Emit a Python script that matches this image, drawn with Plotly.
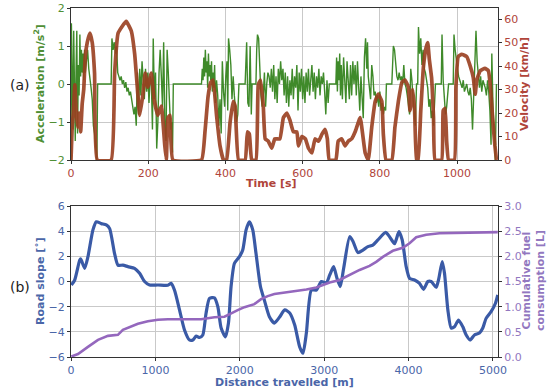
import plotly.graph_objects as go
from plotly.subplots import make_subplots

# ---------------- data: panel (a) ----------------
time_v = [0, 3, 6, 10, 13, 17, 21, 25, 29, 33, 37, 42, 49, 55, 61, 68, 104, 113, 122, 143, 156, 165, 174, 178,
          187, 192, 199, 208, 215, 225, 234, 243, 247, 251, 256, 264, 338, 347, 355, 362, 368, 377, 386, 395,
          403, 412, 420, 425, 434, 451, 457, 462, 468, 479, 485, 491, 498, 503, 511, 520, 528, 541, 550, 559,
          567, 576, 585, 589, 598, 607, 615, 624, 632, 641, 650, 658, 664, 669, 686, 692, 701, 710, 718, 727,
          736, 749, 762, 770, 779, 788, 796, 805, 809, 816, 831, 839, 848, 857, 865, 874, 878, 885, 890, 895,
          899, 906, 913, 920, 924, 928, 934, 939, 943, 960, 964, 969, 973, 978, 993, 997, 1003, 1012, 1025,
          1034, 1042, 1047, 1051, 1060, 1072, 1081, 1087, 1092, 1098, 1102]
velocity = [0, 14, 20, 32, 22, 14, 20, 12, 24, 30, 44, 50, 54, 50, 37, 0, 0, 37, 54, 59, 55, 45, 26, 19,
            29, 37, 31, 37, 26, 19, 23, 6, 0, 18, 19, 0, 0, 12, 27, 33, 34, 19, 6, 0,
            0, 16, 25, 23, 0, 0, 12, 11, 0, 0, 32, 34, 23, 9, 8, 5, 9, 9, 18, 20,
            17, 12, 12, 6, 10, 9, 5, 3, 9, 8, 11, 13, 9, 0, 0, 8, 9, 6, 8, 9,
            12, 18, 3, 0, 14, 25, 28, 25, 11, 0, 0, 14, 25, 33, 34, 31, 21, 30, 21, 0,
            0, 21, 40, 48, 50, 43, 35, 18, 0, 0, 21, 22, 8, 0, 0, 31, 44, 45, 44,
            40, 35, 28, 34, 38, 39, 38, 30, 18, 6, 0]

time_a = [0, 1, 3, 5, 7, 9, 11, 13, 15, 17, 19, 21, 23, 25, 27, 29, 31, 33, 35, 37, 40, 43, 46, 49, 52, 55,
          58, 61, 64, 67, 69, 104,
          106, 109, 112, 115, 118, 121, 124, 127, 130, 133, 136, 139, 142, 145, 148, 151, 154, 157, 160, 163,
          166, 169, 172, 175, 178, 181, 184, 187, 190, 193, 196, 199, 202, 205, 208, 211, 213, 216, 219, 222,
          225, 228, 231, 234, 237, 240, 243, 246, 249, 252, 255, 258, 261, 263, 265, 338,
          340, 342, 344, 346, 348, 350, 352, 354, 356, 358, 360, 362, 364, 366, 368, 370, 372, 374, 377, 380,
          383, 386, 389, 392, 395, 398, 401, 404, 406, 408, 411, 414, 417, 420, 423, 426, 429, 432, 435, 451,
          452, 455, 458, 461, 464, 467, 469, 479, 481, 483, 486, 489, 492, 495, 498, 501, 504, 507, 510, 513,
          516, 519, 522, 525, 528, 531, 534, 537, 540, 543, 546, 549, 552, 555, 558, 561, 564, 567, 570, 573,
          576, 579, 582, 585, 588, 591, 594, 597, 600, 603, 606, 609, 612, 615, 618, 621, 624, 627, 630, 633,
          636, 639, 642, 645, 648, 651, 654, 657, 660, 663, 666, 669, 686,
          688, 690, 692, 694, 696, 698, 700, 703, 706, 709, 712, 715, 718, 721, 724, 727, 730, 733, 736, 739,
          742, 745, 748, 751, 754, 757, 760, 763, 766, 768, 770, 773, 776, 779, 782, 785, 788, 791, 794, 797,
          800, 803, 806, 809, 812, 815, 817, 831,
          833, 835, 838, 841, 844, 847, 850, 853, 856, 859, 862, 865, 868, 871, 874, 877, 880, 883, 886, 889,
          892, 895, 898, 900, 903, 906, 909, 912, 915, 918, 921, 924, 927, 930, 933, 936, 939, 942, 944, 959,
          961, 964, 967, 970, 973, 976, 978, 990, 992, 995, 998, 1001, 1004, 1007, 1010, 1013, 1016, 1019,
          1022, 1025, 1028, 1031, 1034, 1037, 1040, 1043, 1046, 1049, 1052, 1055, 1058, 1061, 1064, 1067,
          1070, 1073, 1076, 1079, 1082, 1085, 1088, 1090, 1093, 1096, 1099, 1102]
acceleration = [-2.0, 1.6, 0.2, -1.2, 1.4, -0.8, -1.5, 0.3, 1.4, -1.3, 0.5, -0.3, 1.3, 0.2, 0.9, 0.3, 0.8, 0.1,
                0.9, 0.3, 0.6, 0.9, 0.4, 0.2, -0.1, -0.4, -1.1, -1.3, -1.6, -2.0, 0, 0,
                1.2, 0.9, 1.1, 0.8, 1.0, 0.3, 0.2, 0.1, 0.2, 0.0, 0.1, -0.1, 0.05, -0.2, -0.1, -0.3, -0.2, -0.4,
                -0.5, -0.8, -0.6, -1.1, 0.3, -0.8, 0.4, -0.3, 0.6, 0.1, -0.4, 0.4, -0.2, 0.3, -0.5, 0.2, 0.1,
                -1.2, 1.2, -0.4, 0.3, -1.7, -1.0, 0.3, 0.9, 0.2, -0.6, 1.1, -1.0, -1.5, 0.9, 0.3, -0.4, -1.2,
                -1.0, -1.8, 0, 0,
                0.4, 0.1, 0.7, 0.2, 0.9, 0.3, 0.6, -0.1, 0.8, 0.2, 0.5, 0.1, 0.6, -0.2, 0.3, -0.1, 0.5, -0.5,
                0.1, -0.3, -1.1, -0.4, -1.3, 0.6, -0.2, -0.6, 0.2, 0.6, -0.7, 1.2, 0.9, 0.5, -0.4, 0.2, -0.3,
                -0.6, -1.0, -0.8, 0, 0,
                0.3, 1.1, -0.5, -0.6, 1.0, -0.8, 0, 0, 0.9, 1.3, 1.2, 0.3, -0.3, -0.6, -0.3, 0.3, -0.6, 0.0,
                0.3, 0.2, -0.1, 0.4, -0.2, 0.5, -0.4, 0.2, -0.5, 0.4, 0.0, 0.6, 0.1, 0.4, -0.3, 0.3, -0.5,
                0.2, -0.6, 0.1, -0.3, 0.4, -0.4, 0.2, -0.1, 0.5, -0.7, 0.3, -0.2, 0.4, -0.4, 0.2, -0.5, 0.3,
                -0.2, 0.4, -0.3, 0.1, 0.5, -0.2, 0.3, -0.4, 0.2, -0.1, 0.4, -0.3, 0.2, 0.0, 0.3, -0.2, -0.8,
                0.1, -0.5, 0, 0,
                0.7, -0.2, 0.6, 0.1, 0.8, -0.3, 0.5, -0.4, 0.7, 0.2, -0.5, 0.6, 0.1, -0.4, 0.5, -0.3, 0.6,
                0.0, 0.5, -0.3, 0.6, -0.2, -0.7, 0.2, -0.4, -0.9, 0.7, 1.2, 0.4, 1.1, 0.2, -0.1, -0.4, 0.5,
                0.2, -0.3, -0.2, -0.5, -0.3, -0.6, -0.2, -0.7, -0.5, -0.8, -0.6, -0.7, 0, 0,
                0.6, 1.0, 0.9, 0.4, 0.2, 0.1, 0.3, 0.1, 0.2, 0.0, 0.5, 0.0, -0.1, -0.3, -0.6, -0.8, 0.4, 0.1,
                -0.4, -0.9, -1.1, 0, 0, 1.5, 0.8, 1.2, 0.5, 0.9, 0.4, 0.3, 0.1, -0.1, -0.6, -0.4, -0.9, -0.7,
                -1.1, -0.6, 0, 0,
                1.3, 0.1, -0.4, -0.8, -0.6, -0.3, 0, 0, 1.3, 0.9, 0.6, 0.4, 0.2, 0.1, 0.0, -0.1, 0.1, -0.2,
                -0.1, 0.0, -0.2, -0.3, -0.1, -0.4, -1.2, -0.3, 0.2, 1.4, 0.6, 0.2, -0.1, 0.2, -0.2, 0.1,
                0.0, -0.1, -0.3, 0.1, -0.2, -0.7, -1.6, 0.8, -0.6, -1.2, -2.0, 0.0]

# ---------------- data: panel (b) ----------------
distance_s = [4, 43, 103, 115, 162, 201, 260, 300, 359, 418, 458, 517, 556, 615, 675, 753, 813, 872, 931,
              1030, 1148, 1187, 1227, 1286, 1345, 1404, 1444, 1483, 1523, 1562, 1601, 1641, 1700, 1740,
              1779, 1830, 1866, 1897, 1937, 1996, 2035, 2075, 2114, 2154, 2193, 2245, 2292, 2351, 2410,
              2470, 2533, 2592, 2651, 2710, 2749, 2789, 2848, 2907, 2967, 3026, 3065, 3112, 3152, 3191,
              3231, 3302, 3341, 3400, 3459, 3518, 3577, 3637, 3728, 3775, 3834, 3886, 3925, 3972, 4012,
              4071, 4130, 4178, 4229, 4268, 4328, 4359, 4399, 4426, 4466, 4505, 4544, 4592, 4643, 4683,
              4730, 4781, 4840, 4880, 4919, 4978, 5030, 5057]
road_slope = [-0.28, 0.1, 1.7, 1.8, 1.05, 1.97, 4.1, 4.75, 4.6, 4.5, 4.2, 2.2, 1.3, 1.3, 1.18, 1.05, 0.65,
              0.0, -0.28, -0.28, -0.3, -0.15, -0.7, -2.26, -3.85, -4.65, -4.65, -4.33, -4.45, -4.25, -2.5,
              -1.34, -1.3, -2.0, -3.7, -4.4, -3.3, -0.4, 1.45, 1.97, 2.5, 4.1, 4.75, 4.1, 2.2, -0.4, -1.5,
              -2.8, -3.3, -2.85, -2.26, -2.5, -3.46, -5.2, -5.7, -4.1, -0.68, -0.68, 0.0, -0.1, 0.5, 1.18,
              0.25, -0.4, 1.05, 3.56, 3.2, 2.3, 2.5, 2.77, 2.9, 3.3, 3.9, 3.56, 3.0, 3.96, 3.3, 1.18, 0.25,
              0.12, -0.15, -0.62, 0.0, 0.0, -0.46, 0.25, 1.58, 0.65, -2.26, -3.7, -3.6, -3.06, -3.6, -4.25,
              -4.65, -4.25, -4.1, -3.7, -2.93, -2.4, -1.73, -1.07]

distance_f = [4, 83, 201, 320, 438, 556, 615, 694, 793, 911, 1030, 1148, 1542, 1621, 1700, 1819, 1897, 1976,
              2055, 2173, 2252, 2331, 2410, 2509, 2631, 2789, 2907, 3065, 3183, 3302, 3420, 3538, 3617,
              3696, 3814, 3932, 4012, 4091, 4209, 4367, 4643, 5057]
fuel = [0.01, 0.06, 0.2, 0.34, 0.42, 0.44, 0.54, 0.6, 0.66, 0.71, 0.74, 0.75, 0.75, 0.77, 0.79, 0.8, 0.87,
        0.93, 0.99, 1.05, 1.15, 1.21, 1.25, 1.27, 1.3, 1.34, 1.38, 1.48, 1.53, 1.63, 1.73, 1.81, 1.89,
        1.99, 2.11, 2.17, 2.26, 2.38, 2.43, 2.46, 2.47, 2.48]

time_ticks = [0, 200, 400, 600, 800, 1000]
dist_ticks = [0, 1000, 2000, 3000, 4000, 5000]

# ---------------- styling ----------------
W, H = 550, 392
GREEN = "#3f8a2a"
GREEN_TXT = "#4f8f35"
VEL = "#9a3f20"
RED_TXT = "#b0443a"
BLUE = "#3a5aa6"
BLUE_TXT = "#4a66a8"
PURPLE = "#9467bd"
PURPLE_TXT = "#9277bf"
GRID = "#c9c9c9"
FRAME = "#333333"
FONT = "DejaVu Sans"

fig = make_subplots(rows=2, cols=1, specs=[[{"secondary_y": True}], [{"secondary_y": True}]])

fig.add_trace(go.Scatter(x=time_a, y=acceleration, mode="lines",
                         line=dict(color=GREEN, width=1.4), showlegend=False),
              row=1, col=1, secondary_y=False)
fig.add_trace(go.Scatter(x=time_v, y=velocity, mode="lines",
                         line=dict(color=VEL, width=3.7, shape="spline", smoothing=0.35),
                         opacity=0.9, showlegend=False),
              row=1, col=1, secondary_y=True)
fig.add_trace(go.Scatter(x=distance_s, y=road_slope, mode="lines",
                         line=dict(color=BLUE, width=3.2, shape="spline", smoothing=0.6), showlegend=False),
              row=2, col=1, secondary_y=False)
fig.add_trace(go.Scatter(x=distance_f, y=fuel, mode="lines",
                         line=dict(color=PURPLE, width=2.6), showlegend=False),
              row=2, col=1, secondary_y=True)

xd = [71 / W, 498 / W]
top_dom = [(H - 160) / H, (H - 8) / H]
bot_dom = [(H - 357) / H, (H - 206) / H]

def tickfont(c):
    return dict(family=FONT, size=11, color=c)

common_x = dict(showline=True, linecolor=FRAME, linewidth=1, mirror=True, ticks="outside",
                ticklen=3, tickcolor=FRAME, showgrid=True, gridcolor=GRID, gridwidth=1,
                zeroline=False, domain=xd, automargin=False)
common_y = dict(showline=True, linecolor=FRAME, linewidth=1, ticks="outside", ticklen=3,
                tickcolor=FRAME, zeroline=False, automargin=False)

fig.update_layout(
    width=W, height=H, margin=dict(l=0, r=0, t=0, b=0, autoexpand=False),
    paper_bgcolor="white", plot_bgcolor="white",
    font=dict(family=FONT, size=11),
    xaxis=dict(common_x, range=[0, 1106], tickvals=time_ticks, tickfont=tickfont(RED_TXT)),
    xaxis2=dict(common_x, range=[0, 5060], tickvals=dist_ticks, tickfont=tickfont(BLUE_TXT)),
    yaxis=dict(common_y, domain=top_dom, range=[-2, 2], dtick=1, showgrid=True, gridcolor=GRID,
               tickfont=tickfont(GREEN_TXT)),
    yaxis2=dict(common_y, domain=top_dom, range=[0, 64.7], tickvals=[0, 10, 20, 30, 40, 50, 60],
                showgrid=False, tickfont=tickfont(RED_TXT), anchor="x", overlaying="y", side="right"),
    yaxis3=dict(common_y, domain=bot_dom, range=[-6, 6], dtick=2, showgrid=True, gridcolor=GRID,
                tickfont=tickfont(BLUE_TXT)),
    yaxis4=dict(common_y, domain=bot_dom, range=[0, 3], dtick=0.5, tickformat=".1f", showgrid=False,
                tickfont=tickfont(PURPLE_TXT), anchor="x2", overlaying="y3", side="right"),
)

def px(x):
    return x / W

def py(y):
    return (H - y) / H

ann = [
    dict(text="Acceleration [m/s<sup>2</sup>]", x=px(39), y=py(84), textangle=-90,
         font=dict(family=FONT, size=11, color=GREEN_TXT, weight="bold")),
    dict(text="Velocity [km/h]", x=px(524), y=py(84), textangle=-90,
         font=dict(family=FONT, size=11, color=RED_TXT, weight="bold")),
    dict(text="Time [s]", x=px(271), y=py(183),
         font=dict(family=FONT, size=11, color=RED_TXT, weight="bold")),
    dict(text="Road slope [˚]", x=px(40), y=py(281), textangle=-90,
         font=dict(family=FONT, size=11, color=BLUE_TXT, weight="bold")),
    dict(text="Cumulative fuel<br>consumption [L]", x=px(533), y=py(281), textangle=-90,
         font=dict(family=FONT, size=11, color=PURPLE_TXT, weight="bold")),
    dict(text="Distance travelled [m]", x=px(284), y=py(382),
         font=dict(family=FONT, size=11, color=BLUE_TXT, weight="bold")),
    dict(text="(a)", x=px(20), y=py(85), font=dict(family=FONT, size=14, color="#222222")),
    dict(text="(b)", x=px(20), y=py(287), font=dict(family=FONT, size=14, color="#222222")),
]
for a in ann:
    a.update(xref="paper", yref="paper", showarrow=False, xanchor="center", yanchor="middle")
fig.update_layout(annotations=ann)

fig.write_html("out.html", config={"displayModeBar": False},
               post_script="document.body.style.margin='0';document.body.style.padding='0';")
